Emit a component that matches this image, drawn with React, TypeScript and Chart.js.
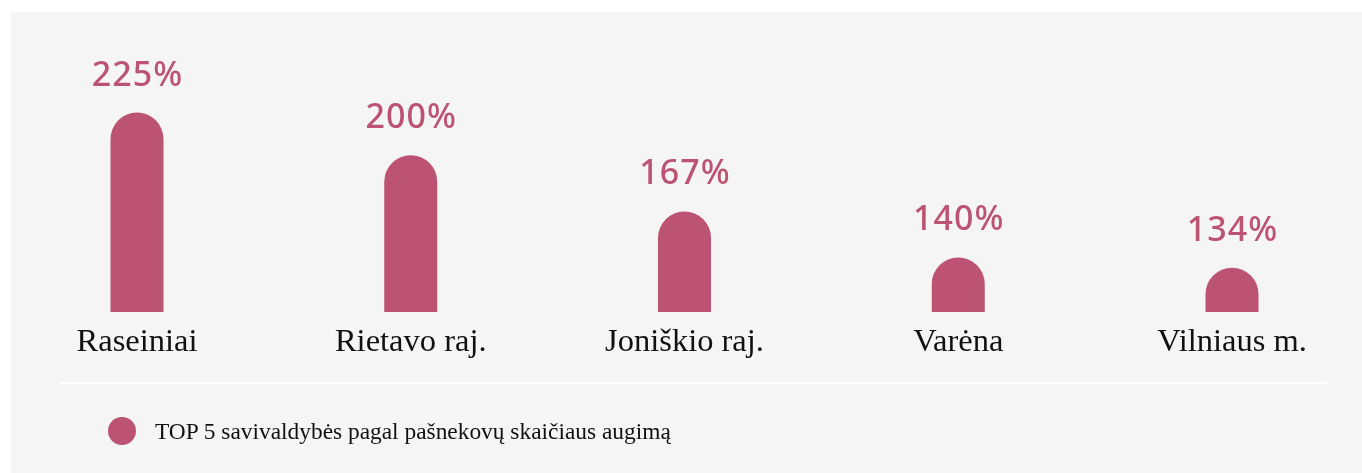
import React, { useEffect, useRef } from "react";
import { Chart, registerables } from "chart.js";

Chart.register(...registerables);

const categories = ["Raseiniai", "Rietavo raj.", "Joniškio raj.", "Varėna", "Vilniaus m."];
const growthValues = [225, 200, 167, 140, 134];
const valueLabels = ["225%", "200%", "167%", "140%", "134%"];
const legendLabel = "TOP 5 savivaldybės pagal pašnekovų skaičiaus augimą";
const AXIS_MIN = 108;
const AXIS_MAX = 240;

const BAR_COLOR = "#bc5373";
const BG = "#f5f5f5";

export default function App() {
  const ref = useRef<HTMLCanvasElement | null>(null);

  useEffect(() => {
    if (!ref.current) return;
    const domeBars = {
      id: "domeBars",
      beforeDatasetDraw(chart: any, args: any) {
        const ctx = chart.ctx;
        const meta = args.meta;
        ctx.save();
        ctx.fillStyle = BAR_COLOR;
        meta.data.forEach((el: any) => {
          const { x, y, base, width } = el.getProps(["x", "y", "base", "width"], true);
          const r = width / 2;
          const left = x - r;
          const right = x + r;
          ctx.beginPath();
          ctx.moveTo(left, base);
          ctx.lineTo(left, y + r);
          ctx.arc(x, y + r, r, Math.PI, 0, false);
          ctx.lineTo(right, base);
          ctx.closePath();
          ctx.fill();
        });
        ctx.restore();
        return false;
      },
    };
    const valuePlugin = {
      id: "valueLabels",
      afterDatasetsDraw(chart: any) {
        const ctx = chart.ctx;
        const meta = chart.getDatasetMeta(0);
        ctx.save();
        ctx.fillStyle = BAR_COLOR;
        ctx.font = "500 34px 'Noto Sans'";
        try {
          (ctx as any).letterSpacing = "1px";
        } catch (e) {}
        ctx.textAlign = "center";
        ctx.textBaseline = "alphabetic";
        meta.data.forEach((el: any, i: number) => {
          ctx.fillText(valueLabels[i], el.x + 0.5, el.y - 27);
        });
        ctx.restore();
      },
    };
    const chart = new Chart(ref.current, {
      type: "bar",
      data: {
        labels: categories,
        datasets: [
          {
            label: legendLabel,
            data: growthValues,
            base: AXIS_MIN,
            backgroundColor: BAR_COLOR,
            barThickness: 53,
            clip: false as any,
          },
        ],
      },
      options: {
        animation: false,
        responsive: false,
        maintainAspectRatio: false,
        devicePixelRatio: 1,
        layout: { padding: { left: 126, right: 130, top: 75, bottom: 108 } },
        scales: {
          x: {
            type: "category",
            offset: false,
            grid: { display: false },
            border: { display: false },
            ticks: {
              color: "#111111",
              font: { family: "'Liberation Serif'", size: 32.5 },
              padding: 3,
              maxRotation: 0,
              autoSkip: false,
            },
          },
          y: { display: false, min: AXIS_MIN, max: AXIS_MAX },
        },
        plugins: { legend: { display: false }, tooltip: { enabled: false } },
      },
      plugins: [domeBars, valuePlugin],
    });
    return () => chart.destroy();
  }, []);

  return (
    <div
      style={{
        position: "absolute",
        left: 11,
        top: 12,
        width: 1351,
        height: 461,
        background: BG,
        overflow: "hidden",
      }}
    >
      <canvas ref={ref} width={1351} height={461} style={{ position: "absolute", left: 0, top: 0 }} />
      <div style={{ position: "absolute", left: 48, top: 370, width: 1268, height: 2, background: "#ffffff" }} />
      <div
        style={{
          position: "absolute",
          left: 97,
          top: 405,
          width: 28,
          height: 28,
          borderRadius: "50%",
          background: BAR_COLOR,
        }}
      />
      <div
        style={{
          position: "absolute",
          left: 144,
          top: 408,
          fontFamily: "'Liberation Serif'",
          fontSize: 23.4,
          lineHeight: "23px",
          color: "#111111",
          whiteSpace: "nowrap",
        }}
      >
        {legendLabel}
      </div>
    </div>
  );
}
